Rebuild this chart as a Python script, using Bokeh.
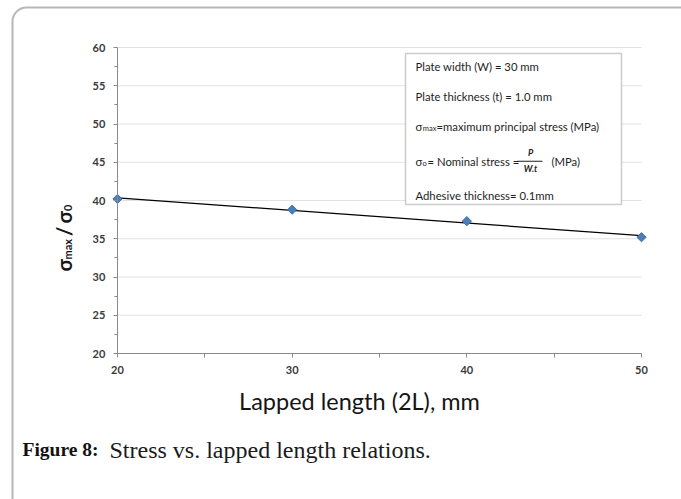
import numpy as np
from bokeh.plotting import figure
from bokeh.models import Range1d, FixedTicker, LinearAxis, Label, BoxAnnotation
from bokeh.embed import file_html
from bokeh.resources import INLINE

# ---------------- data ----------------
lapped_length = [20, 30, 40, 50]
stress_ratio = [40.2, 38.8, 37.3, 35.2]
x_tick_values = [20, 30, 40, 50]
y_tick_values = [20, 25, 30, 35, 40, 45, 50, 55, 60]
x_axis_title = "Lapped length (2L), mm"
caption_bold = "Figure 8:"
caption_text = "Stress vs. lapped length relations."
note_lines = ["Plate width (W) = 30 mm", "Plate thickness (t) = 1.0 mm",
              "Adhesive thickness= 0.1mm"]

# ---------------- layout (page pixels; the canvas is the whole page) ----------------
W, H = 681, 499
X0_PAGE, X1_PAGE = 117, 641    # page x of x=20 and x=50
Y0_PAGE, Y1_PAGE = 353, 47     # page y of y=20 and y=60
kx = (X1_PAGE - X0_PAGE) / (x_tick_values[-1] - x_tick_values[0])
ky = (Y0_PAGE - Y1_PAGE) / (y_tick_values[-1] - y_tick_values[0])
x_lo = x_tick_values[0] - X0_PAGE / kx
x_hi = x_tick_values[-1] + (W - X1_PAGE) / kx
y_lo = y_tick_values[0] - (H - Y0_PAGE) / ky
y_hi = y_tick_values[-1] + Y1_PAGE / ky

# the plot frame covers the whole canvas; the axes are drawn at fixed locations inside it
p = figure(width=W, height=H, output_backend="svg", toolbar_location=None,
           x_range=Range1d(x_lo, x_hi), y_range=Range1d(y_lo, y_hi),
           x_axis_type=None, y_axis_type=None,
           min_border_left=0, min_border_right=0, min_border_top=0, min_border_bottom=0)
p.background_fill_color = "white"
p.border_fill_color = "white"
p.outline_line_color = None

AX_COL = "#8a8a8a"
TICK_FONT = "Lato"

def mids(v):
    return [(a + b) / 2 for a, b in zip(v[:-1], v[1:])]

# x axis: ticks point down, labels placed below the line
xaxis = LinearAxis(ticker=FixedTicker(ticks=x_tick_values, minor_ticks=mids(x_tick_values)),
                   bounds=(x_tick_values[0], x_tick_values[-1]),
                   fixed_location=y_tick_values[0],
                   axis_line_color=AX_COL, major_tick_line_color=AX_COL,
                   minor_tick_line_color=AX_COL, major_tick_in=4, major_tick_out=0,
                   minor_tick_in=4, minor_tick_out=0, major_label_standoff=-20,
                   major_label_text_font=TICK_FONT, major_label_text_font_size="11px",
                   major_label_text_font_style="bold", major_label_text_color="#3a3a3a")
p.add_layout(xaxis, "above")

# y axis: ticks point left, labels placed left of the line
yaxis = LinearAxis(ticker=FixedTicker(ticks=y_tick_values, minor_ticks=mids(y_tick_values)),
                   bounds=(y_tick_values[0], y_tick_values[-1]),
                   fixed_location=x_tick_values[0],
                   axis_line_color=AX_COL, major_tick_line_color=AX_COL,
                   minor_tick_line_color=AX_COL, major_tick_in=4, major_tick_out=0,
                   minor_tick_in=3, minor_tick_out=0, major_label_standoff=-25,
                   major_label_text_font=TICK_FONT, major_label_text_font_size="11px",
                   major_label_text_font_style="bold", major_label_text_color="#3a3a3a")
p.add_layout(yaxis, "right")

# horizontal gridlines at the y ticks, spanning the x axis
gy = y_tick_values[1:]
p.segment(x0=[x_tick_values[0]] * len(gy), x1=[x_tick_values[-1]] * len(gy), y0=gy, y1=gy,
          line_color="#e2e2e2", line_width=1, level="underlay")

# linear trendline through the data
coef = np.polyfit(lapped_length, stress_ratio, 1)
tx = [min(lapped_length), max(lapped_length)]
p.line(tx, list(np.polyval(coef, tx)), line_color="black", line_width=1.2)
p.scatter(lapped_length, stress_ratio, marker="square", angle=np.pi / 4, size=6.5,
          fill_color="#4a7ebb", line_color="#3f6ea8", line_width=1)

# ---------------- annotations in screen units (page coords) ----------------
def lab(text, px, py, size, style="normal", font="Lato", color="#1a1a1a",
        align="left", baseline="alphabetic", angle=0):
    p.add_layout(Label(x=px, y=H - py, x_units="screen", y_units="screen",
                       text=text, text_font=font, text_font_size=f"{size}px",
                       text_font_style=style, text_color=color, text_align=align,
                       text_baseline=baseline, angle=angle, angle_units="deg"))

def box(left, right, top, bottom, **kw):
    p.add_layout(BoxAnnotation(left=left, right=right, top=H - top, bottom=H - bottom,
                               left_units="screen", right_units="screen",
                               top_units="screen", bottom_units="screen", **kw))

# outer rounded frame (its right and bottom edges lie outside the picture)
box(12, 760, 7, 560, fill_alpha=0, line_color="#111111", line_width=2, border_radius=14)

# x axis title
lab(x_axis_title, 359, 400, 23.5, color="#151515", align="center")

# note box
box(405, 621, 53, 204, fill_color="white", fill_alpha=1, line_color="#5a5a5a", line_width=1.5)
NC = "#1e1e1e"
NS = 11.3
lab(note_lines[0], 415, 66.2, NS, color=NC)
lab(note_lines[1], 415, 95.5, NS, color=NC)
lab("σ", 415, 125.5, NS, color=NC)
lab("max", 422.3, 127.8, 7.5, color=NC)
lab("=maximum principal stress (MPa)", 436, 125.5, NS, color=NC)
lab("σ", 415, 160.5, NS, color=NC)
lab("o", 422, 162.5, 7.5, color=NC)
lab("= Nominal stress =", 427, 160.5, NS, color=NC)
lab("P", 530, 152, 9, style="bold italic", color=NC, align="center")
lab("W.t", 530, 168, 9, style="bold italic", color=NC, align="center")
box(517, 542, 160.3, 161.3, fill_color=NC, fill_alpha=1, line_color=None)
lab("(MPa)", 551, 160.5, NS, color=NC)
lab(note_lines[2], 415, 194.8, NS, color=NC)

# y axis title  σmax / σ0  (rotated, built from pieces)
YC = "#151515"
lab("σ", 63, 271, 20, style="bold", color=YC, angle=90)
lab("max", 67, 259, 11, style="bold", color=YC, angle=90)
lab("/", 63, 235.5, 20, style="bold", color=YC, angle=90)
lab("σ", 63, 223, 20, style="bold", color=YC, angle=90)
lab("0", 67, 210.5, 11, style="bold", color=YC, angle=90)

# caption
lab(caption_bold, 22, 449, 19.5, style="bold", font="Liberation Serif", color="#111111")
lab(caption_text, 109, 449, 24, font="Liberation Serif", color="#1a1a1a")

open("out.html", "w").write(file_html(p, INLINE))
